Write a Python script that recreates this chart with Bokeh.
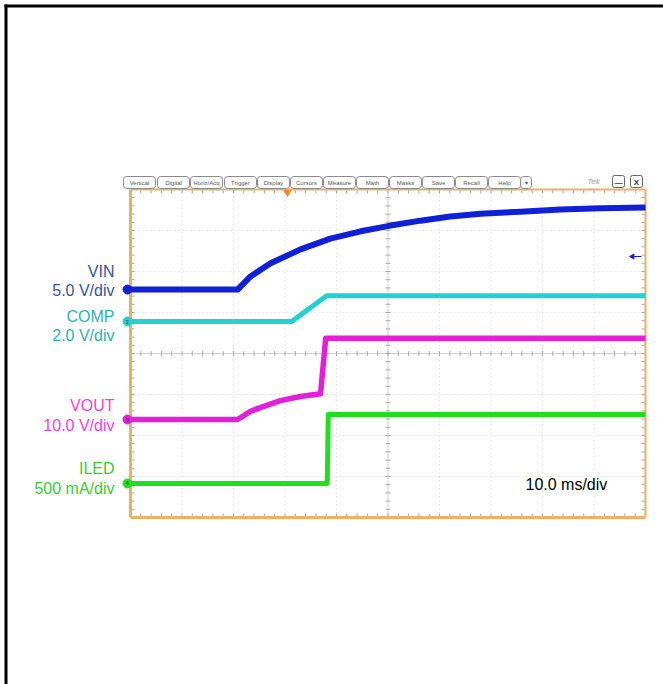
import numpy as np
from bokeh.plotting import figure
from bokeh.models import Range1d
from bokeh.core.properties import value
from bokeh.embed import file_html
from bokeh.resources import INLINE

# ---- data: time in ms (10 ms/div), level in screen divisions (0 = screen centre)
vin_t = [0, 20.8, 23.3, 27.2, 33.0, 38.8, 44.7, 50.5, 56.3, 62.1, 68.0, 75.7, 83.5, 91.3, 100]
vin_div = [1.56, 1.56, 1.88, 2.20, 2.54, 2.80, 2.98, 3.12, 3.24, 3.34, 3.41, 3.46, 3.51, 3.54, 3.56]
comp_t = [0, 31.3, 38.1, 100]
comp_div = [0.78, 0.78, 1.41, 1.41]
vout_t = [0, 20.8, 23.3, 25.2, 29.1, 33.0, 36.9, 37.9, 100]
vout_div = [-1.61, -1.61, -1.41, -1.32, -1.15, -1.05, -0.98, 0.37, 0.37]
iled_t = [0, 38.2, 38.4, 100]
iled_div = [-3.17, -3.17, -1.49, -1.49]

channels = ["VIN", "COMP", "VOUT", "ILED"]
scales = ["5.0 V/div", "2.0 V/div", "10.0 V/div", "500 mA/div"]
timebase = "10.0 ms/div"
buttons = ["Vertical", "Digital", "Horiz/Acq", "Trigger", "Display", "Cursors",
           "Measure", "Math", "Masks", "Save", "Recall", "Help", "▾"]

trace_colors = ["#1020d8", "#22d2d2", "#e21fd9", "#1fe01f"]
trace_widths = [6, 5, 5.5, 5]
label_colors = ["#34559a", "#2bb3b3", "#ff3fd2", "#38cc38"]

# ---- page geometry helpers (page pixels -> screen units)
OX, OY = 0, 0
W, H = 663, 684
PXDIV = 5.15   # px per ms
PYDIV = 41.0   # px per division
CX0, CY0 = 130, 353

def tx(px):
    return (px - CX0) / PXDIV

def dy(py):
    return (CY0 - py) / PYDIV

p = figure(width=W, height=H, output_backend="svg", toolbar_location=None,
           x_range=Range1d(tx(OX), tx(OX + W)), y_range=Range1d(dy(OY + H), dy(OY)),
           x_axis_type=None, y_axis_type=None, min_border=0,
           background_fill_color="white", border_fill_color="white")
p.outline_line_color = None
p.xgrid.visible = False
p.ygrid.visible = False

FONT = value("Liberation Sans")

# ---- page frame (black)
p.quad(left=[tx(4), tx(4)], right=[tx(7), tx(700)], top=[dy(4), dy(4)],
       bottom=[dy(720), dy(7)], fill_color="black", line_color=None)

# ---- dotted graticule
gx = [t for t in range(10, 100, 10) if t != 50]
p.segment(x0=gx, x1=gx, y0=[-4] * len(gx), y1=[4] * len(gx),
          line_color="#d4d4d4", line_width=1, line_dash="1 3")
gy = [d for d in range(-3, 4) if d != 0]
p.segment(x0=[0] * len(gy), x1=[100] * len(gy), y0=gy, y1=gy,
          line_color="#d4d4d4", line_width=1, line_dash="1 3")
# centre lines
p.segment(x0=[50, 0], x1=[50, 100], y0=[-4, 0], y1=[4, 0], line_color="#cfcfcf", line_width=1)

# minor ticks
mt = np.arange(2, 100, 2)
md = np.arange(-3.8, 4, 0.2)
tl_x = 4 / PXDIV
tl_y = 4 / PYDIV
tick_col = "#a8a8a8"
p.segment(x0=mt, x1=mt, y0=[4] * len(mt), y1=[4 - tl_y] * len(mt), line_color=tick_col)
p.segment(x0=mt, x1=mt, y0=[-4] * len(mt), y1=[-4 + tl_y] * len(mt), line_color=tick_col)
p.segment(x0=mt, x1=mt, y0=[-tl_y * 0.6] * len(mt), y1=[tl_y * 0.6] * len(mt), line_color=tick_col)
p.segment(x0=[0] * len(md), x1=[tl_x] * len(md), y0=md, y1=md, line_color=tick_col)
p.segment(x0=[100] * len(md), x1=[100 - tl_x] * len(md), y0=md, y1=md, line_color=tick_col)
p.segment(x0=[50 - tl_x * 0.6] * len(md), x1=[50 + tl_x * 0.6] * len(md), y0=md, y1=md, line_color=tick_col)

# orange screen border
orange = "#ebb06a"
p.segment(x0=[0, 0], x1=[0, 100], y0=[-4, -4], y1=[4, -4], line_color=orange, line_width=3)
p.segment(x0=[0, 100], x1=[100, 100], y0=[4, 4], y1=[4, -4], line_color=orange, line_width=2)

# trigger markers
p.scatter(x=[tx(287)], y=[dy(192)], marker="inverted_triangle", size=7,
          fill_color="#f08c28", line_color="#f08c28")
p.segment(x0=[tx(633)], x1=[tx(641)], y0=[dy(256)], y1=[dy(256)], line_color="#1020d8", line_width=1)
p.scatter(x=[tx(632)], y=[dy(256)], marker="triangle", angle=np.pi / 2, size=5,
          fill_color="#1020d8", line_color="#1020d8")

# ---- traces
series = [(vin_t, vin_div), (comp_t, comp_div), (vout_t, vout_div), (iled_t, iled_div)]
for (t, d), c, w in zip(series, trace_colors, trace_widths):
    p.line(t, d, line_color=c, line_width=w, line_join="round")

# level markers
mx = [tx(127)] * 4
my = [s[1][0] for s in series]
p.scatter(x=mx, y=my, size=9, fill_color=trace_colors, line_color=trace_colors)
p.text(x=mx, y=my, text=["1", "2", "3", "4"], text_font_size="5px", text_align="center",
       text_baseline="middle", text_color="#333333", text_font=FONT)

# ---- channel labels
name_py = [271, 316, 405, 468]
scale_py = [290, 335, 425, 488]
p.text(x=[tx(114)] * 4, y=[dy(v) for v in name_py], text=channels, text_color=label_colors,
       text_font=FONT, text_font_size="16px", text_align="right", text_baseline="middle")
p.text(x=[tx(114)] * 4, y=[dy(v) for v in scale_py], text=scales, text_color=label_colors,
       text_font=FONT, text_font_size="16px", text_align="right", text_baseline="middle")
p.text(x=[tx(525)], y=[dy(484)], text=[timebase], text_color="black",
       text_font=FONT, text_font_size="16px", text_align="left", text_baseline="middle")

# ---- scope menu bar
bl = [123, 157, 190, 224, 257, 290, 323, 356, 389, 422, 455, 488, 520]
bw = [32] * 12 + [11]
p.quad(left=[tx(l) for l in bl], right=[tx(l + w) for l, w in zip(bl, bw)],
       top=[dy(176)] * len(bl), bottom=[dy(188)] * len(bl), border_radius=3,
       fill_color="white", line_color="#8a8a8a", line_width=1)
p.text(x=[tx(l + w / 2) for l, w in zip(bl, bw)], y=[dy(182)] * len(bl), text=buttons,
       text_font=FONT, text_font_size="6px", text_align="center", text_baseline="middle",
       text_color="#555555")
p.text(x=[tx(593)], y=[dy(181)], text=["Tek"], text_font=FONT, text_font_size="8px",
       text_font_style="italic", text_align="center", text_baseline="middle", text_color="#9a9a9a")
p.quad(left=[tx(612), tx(630)], right=[tx(624), tx(642)], top=[dy(175)] * 2, bottom=[dy(187)] * 2,
       border_radius=2, fill_color="white", line_color="#666666")
p.text(x=[tx(618), tx(636)], y=[dy(181.5)] * 2, text=["—", "X"], text_font=FONT,
       text_font_size="8px", text_align="center", text_baseline="middle", text_color="#333333",
       text_font_style="bold")

open("out.html", "w").write(file_html(p, INLINE))
